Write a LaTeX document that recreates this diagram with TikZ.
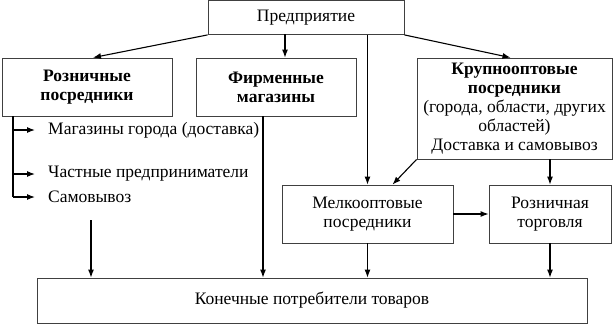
\documentclass[tikz,border=0pt]{standalone}
\usepackage{fontspec}
\setmainfont{Liberation Serif}
\usetikzlibrary{arrows.meta,calc}
\begin{document}
\begin{tikzpicture}[x=1pt,y=-1pt,
  box/.style={draw=black!75,line width=0.8pt,align=center,inner sep=1pt,
    font=\fontsize{17.5}{19}\selectfont},
  item/.style={anchor=west,inner xsep=13pt,inner ysep=0pt,font=\fontsize{17.5}{19}\selectfont},
  arr/.style={line width=1.1pt,-{Latex[length=8pt,width=6pt]}},
  ln/.style={line width=1.1pt}]
\useasboundingbox (0,0) rectangle (613,325);
\node[box,minimum width=196pt,minimum height=34pt] (top) at (306,17.5) {Предприятие};
\node[box,minimum width=170pt,minimum height=58pt] (roz) at (87,87) {\textbf{Розничные}\\\textbf{посредники}};
\node[box,minimum width=160pt,minimum height=58pt] (firm) at (276,87) {\textbf{Фирменные}\\\textbf{магазины}};
\node[box,minimum width=195pt,minimum height=101pt] (krup) at (514.5,108.5) {\textbf{Крупнооптовые}\\\textbf{посредники}\\(города, области, других\\областей)\\Доставка и самовывоз};
\node[box,minimum width=171pt,minimum height=58pt] (melko) at (367.5,214) {Мелкооптовые\\посредники};
\node[box,minimum width=122pt,minimum height=58pt] (rozt) at (550,214) {Розничная\\торговля};
\node[box,minimum width=550pt,minimum height=45pt] (final) at (312,300.5) {Конечные потребители товаров};
\node[item] (i1) at (35,130) {Магазины города (доставка)};
\node[item] (i2) at (35,174) {Частные предприниматели};
\node[item] (i3) at (35,197) {Самовывоз};
\coordinate (trunk) at (13,116);
\coordinate (sv) at (91,220);
\coordinate (fm) at (263,116);
\coordinate (tm) at (285,34);
% top arrows
\draw[arr] (top.south west) -- ($(roz.north)+(6,0)$);
\draw[arr] (tm) -- (tm |- firm.north);
\draw[arr] (top.south east) -- ($(krup.north)+(-4,0)$);
\draw[arr] (top.south -| melko.north) -- (melko.north);
% krupno
\draw[arr] (krup.south -| rozt.north) -- (rozt.north);
\draw[arr] (krup.south west) -- ($(melko.north)+(25,0)$);
\draw[arr] (melko.east) -- (rozt.west);
\draw[arr] (melko.south) -- (final.north -| melko.south);
\draw[arr] (rozt.south) -- (final.north -| rozt.south);
\draw[arr] (fm) -- (fm |- final.north);
\draw[arr] (sv) -- (sv |- final.north);
% left list
\draw[ln] (trunk) -- (trunk |- i3.west);
\draw[arr] (trunk |- i1.west) -- (i1.west);
\draw[arr] (trunk |- i2.west) -- (i2.west);
\draw[arr] (trunk |- i3.west) -- (i3.west);
\end{tikzpicture}
\end{document}
